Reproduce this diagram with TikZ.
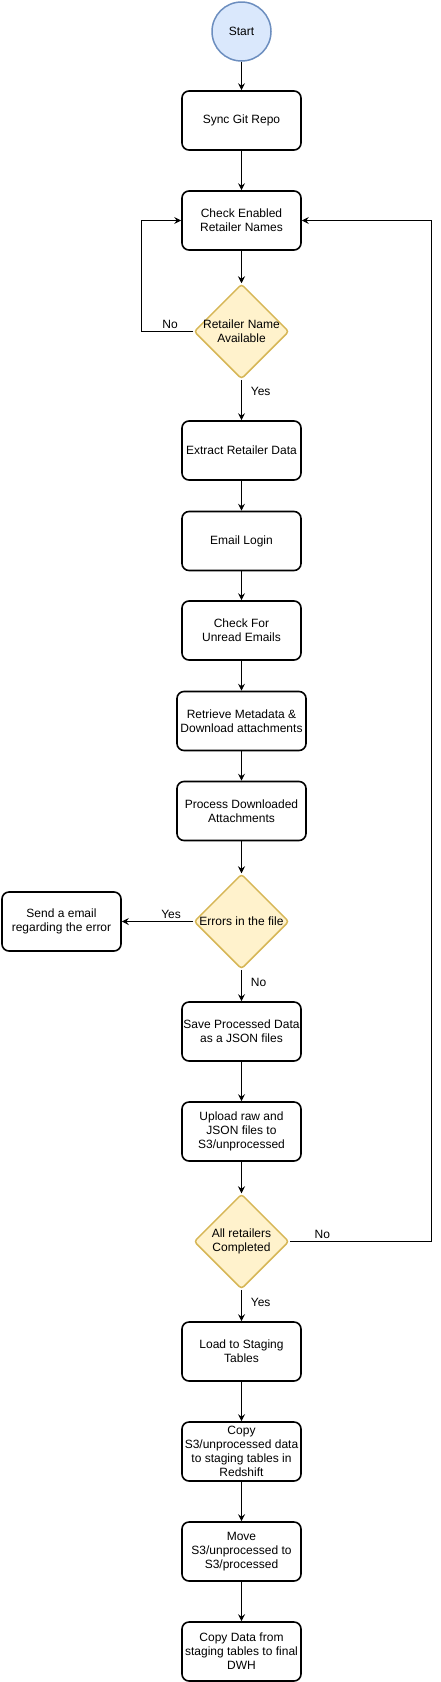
\documentclass[tikz,border=0pt]{standalone}
\usepackage{fontspec}
\setmainfont{Liberation Sans}
\usetikzlibrary{arrows.meta,shapes.geometric}

\definecolor{startfill}{HTML}{DAE8FC}
\definecolor{startline}{HTML}{6C8EBF}
\definecolor{decfill}{HTML}{FFF2CC}
\definecolor{decline}{HTML}{D6B656}

\begin{document}
\begin{tikzpicture}[x=1pt,y=-1pt,>={Stealth[length=7pt,width=7pt,inset=2.5pt]},
  font=\fontsize{12}{14}\selectfont,
  startnode/.style={circle, draw=startline, fill=startfill, line width=1.5pt, minimum size=59pt, inner sep=0pt},
  stepbox/.style={draw, rounded corners=7pt, line width=1.6pt, minimum width=119pt, minimum height=59pt, align=center, inner sep=1pt},
  widebox/.style={stepbox, minimum width=129pt},
  decision/.style={diamond, draw=decline, fill=decfill, line width=1.5pt, rounded corners=3pt, minimum width=95pt, minimum height=95pt, inner sep=0pt},
  flow/.style={->, line width=0.8pt},
  lbl/.style={inner sep=2pt}]

  \useasboundingbox (0,0) rectangle (440,1682);

%%%%%%%%%%%%%%%%%%%%%%%%%%%%%%%%%%%%%%%%%%
  % Start and retailer loop
  \node[startnode] (start) at (241.5,31.5) {Start};
  \node[stepbox] (sync) at (241.5,120.5) {Sync Git Repo};
  \node[stepbox] (check) at (241.5,220.5) {Check Enabled\\Retailer Names};
  \node[decision, label={[align=center]center:Retailer Name\\Available}] (avail) at (241.5,331.5) {};

  % Email processing
  \node[stepbox] (extract) at (241.5,450.5) {Extract Retailer Data};
  \node[stepbox] (login) at (241.5,541) {Email Login};
  \node[stepbox] (unread) at (241.5,630.5) {Check For\\Unread Emails};
  \node[widebox] (retrieve) at (241.5,721) {Retrieve Metadata \&\\Download attachments};
  \node[widebox] (process) at (241.5,811) {Process Downloaded\\Attachments};
  \node[decision, label={center:Errors in the file}] (errors) at (241.5,921.5) {};
  \node[stepbox] (notify) at (61.5,921.5) {Send a email\\regarding the error};
  \node[stepbox] (save) at (241.5,1031.5) {Save Processed Data\\as a JSON files};
  \node[stepbox] (upload) at (241.5,1131.5) {Upload raw and\\JSON files to\\S3/unprocessed};
  \node[decision, label={[align=center]center:All retailers\\Completed}] (done) at (241.5,1241.5) {};

  % Redshift loading
  \node[stepbox] (load) at (241.5,1351.5) {Load to Staging\\Tables};
  \node[stepbox] (copy) at (241.5,1451.5) {Copy\\S3/unprocessed data\\to staging tables in\\Redshift};
  \node[stepbox] (move) at (241.5,1551.5) {Move\\S3/unprocessed to\\S3/processed};
  \node[stepbox] (final) at (241.5,1651.5) {Copy Data from\\staging tables to final\\DWH};

%%%%%%%%%%%%%%%%%%%%%%%%%%%%%%%%%%%%%%%%%%
  % Loop corners
  \coordinate (loopL) at (141.7,331.5);
  \coordinate (loopR) at (431.7,1241.5);

  % Arrows
  \draw[flow] (start) -- (sync);
  \draw[flow] (sync) -- (check);
  \draw[flow] (check) -- (avail);
  \draw[flow] (avail.west) -- (loopL) node[lbl, above, pos=0.45] {No} |- (check.west);
  \draw[flow] (avail) -- (extract) node[lbl, right=7pt, pos=0.3] {Yes};
  \draw[flow] (extract) -- (login);
  \draw[flow] (login) -- (unread);
  \draw[flow] (unread) -- (retrieve);
  \draw[flow] (retrieve) -- (process);
  \draw[flow] (process) -- (errors);
  \draw[flow] (errors.west) -- (notify.east) node[lbl, above, pos=0.31] {Yes};
  \draw[flow] (errors) -- (save) node[lbl, right=7pt, pos=0.4] {No};
  \draw[flow] (save) -- (upload);
  \draw[flow] (upload) -- (done);
  \draw[flow] (done.east) -- (loopR) node[lbl, above, pos=0.23] {No} |- (check.east);
  \draw[flow] (done) -- (load) node[lbl, right=7pt, pos=0.4] {Yes};
  \draw[flow] (load) -- (copy);
  \draw[flow] (copy) -- (move);
  \draw[flow] (move) -- (final);

\end{tikzpicture}
\end{document}
